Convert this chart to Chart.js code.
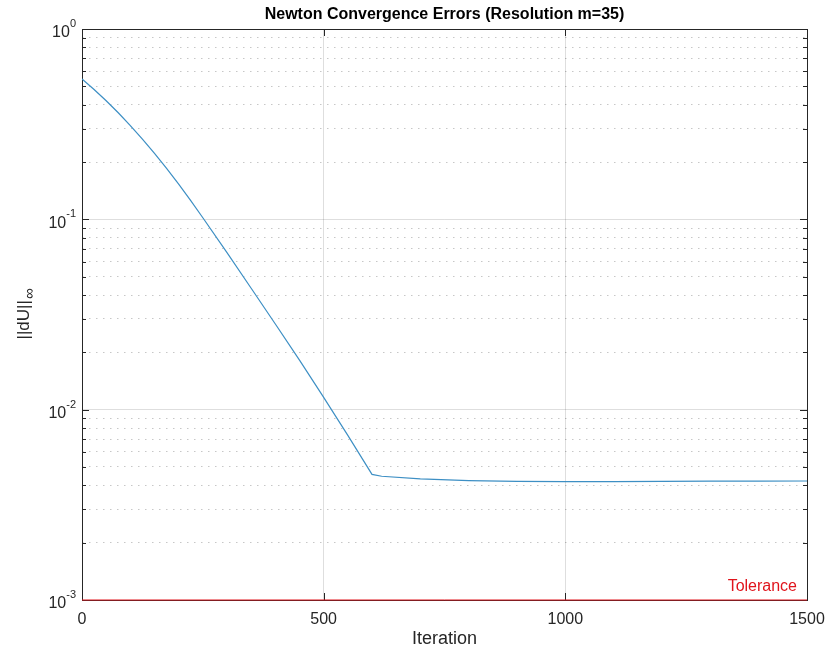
<!DOCTYPE html>
<html>
<head>
<meta charset="utf-8">
<script src="https://cdn.jsdelivr.net/npm/chart.js@4.4.0/dist/chart.umd.min.js"></script>
<style>
html, body { margin: 0; padding: 0; background: #fff; }
#wrap { width: 825px; height: 648px; }
</style>
</head>
<body>
<div id="wrap"><canvas id="myChart"></canvas></div>
<script>
// values
const iterations = [0, 25, 50, 75, 100, 125, 150, 175, 200, 225, 250, 300, 350, 400, 450, 500, 550, 600,
    620, 700, 800, 900, 1000, 1100, 1200, 1300, 1400, 1500];
const errors = [0.547, 0.481, 0.420, 0.363, 0.311, 0.264, 0.2223, 0.1854, 0.1531, 0.1253, 0.1019,
    0.0668, 0.04345, 0.0282, 0.0182, 0.01161, 0.00733, 0.00457,
    0.00447, 0.00433, 0.00424, 0.00420, 0.00419, 0.00419, 0.00420, 0.00421, 0.00421, 0.00422];
const tolerance = 1e-3;
const tolIterations = [0, 1500];

const xTicks = [0, 500, 1000, 1500];
const yMajor = [1e-3, 1e-2, 1e-1, 1];
const yExps = ['-3', '-2', '-1', '0'];
const yGrid = [0.001, 0.002, 0.003, 0.004, 0.005, 0.006, 0.007, 0.008, 0.009,
    0.01, 0.02, 0.03, 0.04, 0.05, 0.06, 0.07, 0.08, 0.09,
    0.1, 0.2, 0.3, 0.4, 0.5, 0.6, 0.7, 0.8, 0.9, 1];

const FONT = '"Liberation Sans", Arial, Helvetica, sans-serif';
const AXIS = '#262626';
const RED = '#e0141c';

function isMajor(v) {
    const l = Math.log10(v);
    return Math.abs(l - Math.round(l)) < 1e-9;
}

const matlabAxes = {
    id: 'matlabAxes',
    beforeDatasetsDraw(chart) {
        const { ctx, chartArea: a } = chart;
        const x = chart.scales.x, y = chart.scales.y;
        ctx.save();
        ctx.strokeStyle = AXIS;
        ctx.lineWidth = 1;
        ctx.strokeRect(Math.round(a.left) + 0.5, Math.round(a.top) + 0.5,
            Math.round(a.right - a.left), Math.round(a.bottom - a.top));
        ctx.beginPath();
        xTicks.forEach(v => {
            const px = Math.round(x.getPixelForValue(v)) + 0.5;
            ctx.moveTo(px, a.bottom); ctx.lineTo(px, a.bottom - 7);
            ctx.moveTo(px, a.top); ctx.lineTo(px, a.top + 7);
        });
        yGrid.forEach(v => {
            const py = Math.round(y.getPixelForValue(v)) + 0.5;
            const len = isMajor(v) ? 7 : 4;
            ctx.moveTo(a.left, py); ctx.lineTo(a.left + len, py);
            ctx.moveTo(a.right, py); ctx.lineTo(a.right - len, py);
        });
        ctx.stroke();
        ctx.restore();
    },
    afterDraw(chart) {
        const { ctx, chartArea: a } = chart;
        const y = chart.scales.y;
        ctx.save();

        // title
        ctx.fillStyle = '#000';
        ctx.font = 'bold 16px ' + FONT;
        ctx.textAlign = 'center';
        ctx.textBaseline = 'middle';
        ctx.fillText('Newton Convergence Errors (Resolution m=35)', (a.left + a.right) / 2, 15);

        // y tick labels 10^n
        ctx.fillStyle = AXIS;
        yMajor.forEach((v, i) => {
            const py = y.getPixelForValue(v);
            const right = a.left - 6;
            ctx.font = '11px ' + FONT;
            const ew = ctx.measureText(yExps[i]).width;
            ctx.textAlign = 'left';
            ctx.fillText(yExps[i], right - ew, py - 5);
            ctx.font = '16px ' + FONT;
            ctx.textAlign = 'right';
            ctx.fillText('10', right - ew, py + 4);
        });

        // y axis title ||dU||_inf
        ctx.translate(29, (a.top + a.bottom) / 2 + 25);
        ctx.rotate(-Math.PI / 2);
        ctx.textAlign = 'left';
        ctx.textBaseline = 'alphabetic';
        ctx.font = '17px ' + FONT;
        const w = ctx.measureText('||dU||').width;
        ctx.fillText('||dU||', 0, 0);
        ctx.font = '15px ' + FONT;
        ctx.fillText('\u221E', w + 1, 5);
        ctx.setTransform(1, 0, 0, 1, 0, 0);

        // tolerance label
        const x = chart.scales.x;
        ctx.fillStyle = RED;
        ctx.font = '16px ' + FONT;
        ctx.textAlign = 'right';
        ctx.textBaseline = 'alphabetic';
        ctx.fillText('Tolerance', x.getPixelForValue(1500) - 10, y.getPixelForValue(tolerance) - 9);
        ctx.restore();
    }
};

const ctx = document.getElementById('myChart').getContext('2d');
new Chart(ctx, {
    type: 'line',
    data: {
        datasets: [
            {
                label: 'Error',
                data: iterations.map((it, i) => ({ x: it, y: errors[i] })),
                borderColor: '#3d8fc4',
                borderWidth: 1.2,
                pointRadius: 0,
                tension: 0
            },
            {
                label: 'Tolerance',
                data: tolIterations.map(it => ({ x: it, y: tolerance })),
                borderColor: RED,
                borderWidth: 1,
                pointRadius: 0,
                clip: 4
            }
        ]
    },
    options: {
        responsive: true,
        maintainAspectRatio: false,
        animation: false,
        layout: { padding: { top: 29, right: 18, left: 0, bottom: 0 } },
        plugins: {
            legend: { display: false },
            tooltip: { enabled: false }
        },
        scales: {
            x: {
                type: 'linear',
                min: 0,
                max: 1500,
                afterBuildTicks: s => { s.ticks = xTicks.map(v => ({ value: v })); },
                afterFit: s => { s.height = 48; s.paddingLeft = 0; s.paddingRight = 0; },
                ticks: {
                    color: AXIS,
                    font: { family: FONT, size: 16 },
                    padding: 10,
                    maxRotation: 0,
                    callback: v => String(v)
                },
                grid: { color: 'rgba(0,0,0,0.13)', drawTicks: false },
                border: { display: false },
                title: {
                    display: true,
                    text: 'Iteration',
                    color: AXIS,
                    font: { family: FONT, size: 18 },
                    padding: { top: 0, bottom: -2 }
                }
            },
            y: {
                type: 'logarithmic',
                min: 0.001,
                max: 1,
                afterBuildTicks: s => { s.ticks = yGrid.map(v => ({ value: v, major: isMajor(v) })); },
                afterFit: s => { s.width = 82; s.paddingTop = 0; s.paddingBottom = 0; },
                ticks: { display: false },
                grid: {
                    drawTicks: false,
                    color: c => (c.tick && isMajor(c.tick.value)) ? 'rgba(0,0,0,0.13)' : 'rgba(0,0,0,0.22)'
                },
                border: {
                    display: false,
                    dash: c => (c.tick && !isMajor(c.tick.value)) ? [1.5, 5.5] : []
                }
            }
        }
    },
    plugins: [matlabAxes]
});
</script>
</body>
</html>
